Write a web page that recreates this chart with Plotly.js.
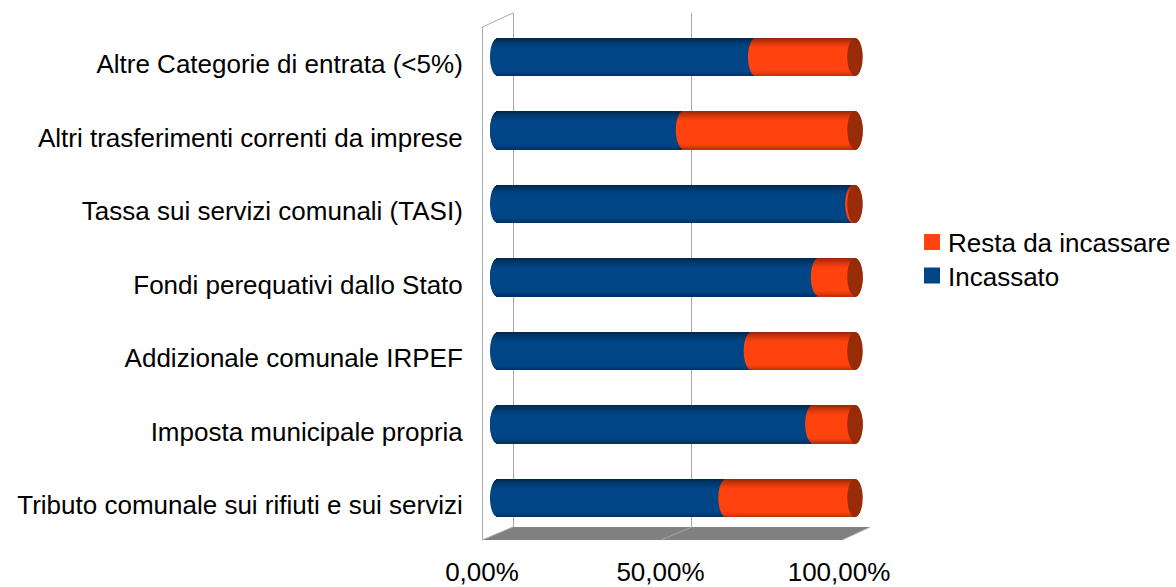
<!DOCTYPE html>
<html>
<head>
<meta charset="utf-8">
<script src="https://cdn.plot.ly/plotly-3.0.1.min.js"></script>
<style>html,body{margin:0;padding:0;background:#fff}</style>
</head>
<body>
<div id="chart" style="width:1176px;height:587px"></div>
<script>
var categories = [
  "Tributo comunale sui rifiuti e sui servizi",
  "Imposta municipale propria",
  "Addizionale comunale IRPEF",
  "Fondi perequativi dallo Stato",
  "Tassa sui servizi comunali (TASI)",
  "Altri trasferimenti correnti da imprese",
  "Altre Categorie di entrata (<5%)"
];
var incassato = [63.9, 88.2, 71, 89.8, 99.4, 52, 72.2];
var restaDaIncassare = [36.1, 11.8, 29, 10.2, 0.6, 48, 27.8];
var tickValues = [0, 50, 100];
var tickLabels = ["0,00%", "50,00%", "100,00%"];

// Frame of the plot, in window pixels
var L = 482, R = 870, T = 13, B = 540, W = 1176, H = 587;
var backFloorY = 527;
function px(x){ return (x - L) / (R - L); }
function py(y){ return (B - y) / (B - T); }

// Cylinder geometry
var slotPx = 73.5, pxPerUnit = 3.573, zeroPx = 497.7;
var barPx = 38, capPx = 7.7, strips = 38;
var capUnits = capPx / pxPerUnit;
var labelDropPx = 7;

function shade(rgb, m){
  return "rgb(" + rgb.map(function(c){ return Math.round(c * m); }).join(",") + ")";
}
function profile(t){
  // t = 1 at the top of the cylinder, -1 at the bottom
  if (t > 0.45) return 1 - 0.42 * Math.pow((t - 0.45) / 0.55, 1.4);
  if (t < -0.7) return 1 - 0.28 * Math.pow((-t - 0.7) / 0.3, 1.6);
  return 1;
}
var blue = [0, 69, 134], orange = [255, 66, 14], capColor = [153, 44, 8];

var traces = [];
// invisible helper traces that keep the wall grid and the label axes alive
traces.push({type:"scatter", mode:"markers", x:tickValues, y:[0,0,0], xaxis:"x", yaxis:"y",
  marker:{opacity:0}, showlegend:false, hoverinfo:"skip"});
traces.push({type:"scatter", mode:"markers", x:categories.map(function(){ return 0; }), y:categories, xaxis:"x3", yaxis:"y3",
  marker:{opacity:0}, showlegend:false, hoverinfo:"skip"});

for (var i = 0; i < strips; i++) {
  var topPx = barPx / 2 - i * barPx / strips;
  var hPx = barPx / strips;
  var t = (topPx - hPx / 2) / (barPx / 2);
  var bulge = capUnits * Math.sqrt(Math.max(0, 1 - t * t));
  var m = profile(t);
  var width = hPx / slotPx, offset = (topPx - hPx) / slotPx;
  var common = {type:"bar", orientation:"h", y:categories, xaxis:"x2", yaxis:"y2",
    width:width, offset:offset, showlegend:false, hoverinfo:"skip"};
  traces.push(Object.assign({}, common, {
    x: incassato.map(function(v){ return v + bulge; }),
    base: incassato.map(function(){ return -bulge; }),
    marker:{color:shade(blue, m), line:{width:0}}
  }));
  traces.push(Object.assign({}, common, {
    x: restaDaIncassare.map(function(v){ return v + bulge; }),
    base: incassato.map(function(v){ return v - bulge; }),
    marker:{color:shade(orange, m), line:{width:0}}
  }));
  traces.push(Object.assign({}, common, {
    x: incassato.map(function(){ return bulge * 2; }),
    base: incassato.map(function(v, k){ return v + restaDaIncassare[k] - bulge; }),
    marker:{color:shade(capColor, 0.9 + 0.1 * m), line:{width:0}}
  }));
}
// Legend entries
traces.push({type:"scatter", mode:"markers", name:"Resta da incassare", x:[-1000], y:[categories[0]], xaxis:"x2", yaxis:"y2",
  marker:{symbol:"square", size:16, color:"#ff420e"}, hoverinfo:"skip"});
traces.push({type:"scatter", mode:"markers", name:"Incassato", x:[-1000], y:[categories[0]], xaxis:"x2", yaxis:"y2",
  marker:{symbol:"square", size:16, color:"#004586"}, hoverinfo:"skip"});

var wall = "#a8a8a8";
var fontSize = 26;
var layout = {
  width: W, height: H,
  margin: {l: L, r: W - R, t: T, b: H - B, pad: 0, autoexpand: false},
  paper_bgcolor: "#ffffff", plot_bgcolor: "rgba(0,0,0,0)",
  font: {family: "Liberation Sans", size: fontSize, color: "#000000"},
  barmode: "overlay",
  showlegend: true,
  legend: {x: px(908), xanchor: "left", y: py(218.5), yanchor: "top", bgcolor: "rgba(0,0,0,0)",
    font: {family: "Liberation Sans", size: fontSize, color: "#000"}, itemwidth: 30, traceorder: "normal", tracegroupgap: 0},
  // back wall
  xaxis: {domain: [0, 1], range: [(L - 513) / 3.57, 100], tickvals: tickValues, showgrid: true, gridcolor: wall, gridwidth: 1,
    zeroline: false, showticklabels: false, ticks: "", showline: false, anchor: "y"},
  yaxis: {domain: [py(backFloorY), 1], range: [0, 1], showgrid: false, zeroline: false, showticklabels: false, ticks: "", showline: false, anchor: "x"},
  // cylinders
  xaxis2: {domain: [0, 1], range: [(L - zeroPx) / pxPerUnit, (R - zeroPx) / pxPerUnit], visible: false, anchor: "y2"},
  yaxis2: {domain: [0, 1], range: [(498 - B) / slotPx, (498 - T) / slotPx], type: "category",
    categoryorder: "array", categoryarray: categories, visible: false, anchor: "x2"},
  // value labels on the front edge of the floor
  xaxis3: {domain: [0, 1], range: [0, (R - L) / 3.57], tickvals: tickValues, ticktext: tickLabels,
    anchor: "y3", side: "bottom", showgrid: false, zeroline: false, showline: false, ticks: "outside", ticklen: 9, tickcolor: "rgba(0,0,0,0)",
    tickfont: {family: "Liberation Sans", size: fontSize, color: "#000"}, automargin: false},
  // category labels sit a little below the cylinders
  yaxis3: {domain: [0, 1], range: [(498 + labelDropPx - B) / slotPx, (498 + labelDropPx - T) / slotPx], type: "category",
    categoryorder: "array", categoryarray: categories, anchor: "x3", side: "left",
    showgrid: false, zeroline: false, showline: false, ticks: "outside", ticklen: 13, tickcolor: "rgba(0,0,0,0)",
    tickfont: {family: "Liberation Sans", size: fontSize, color: "#000"}, automargin: false},
  shapes: [
    {type:"path", xref:"paper", yref:"paper", layer:"below", line:{width:0}, fillcolor:"#808080",
      path:"M"+px(513)+","+py(527)+"L"+px(870)+","+py(527)+"L"+px(842)+","+py(540)+"L"+px(482)+","+py(540)+"Z"},
    {type:"line", xref:"paper", yref:"paper", layer:"below", x0:px(692), y0:py(527), x1:px(661), y1:py(540), line:{color:wall, width:1}},
    {type:"line", xref:"paper", yref:"paper", layer:"below", x0:px(482.5), y0:py(27), x1:px(482.5), y1:py(540), line:{color:wall, width:1}},
    {type:"line", xref:"paper", yref:"paper", layer:"below", x0:px(482.5), y0:py(27), x1:px(513), y1:py(13), line:{color:wall, width:1}},
    {type:"line", xref:"paper", yref:"paper", layer:"below", x0:px(482.5), y0:py(540), x1:px(513), y1:py(527), line:{color:wall, width:1}},
    {type:"line", xref:"paper", yref:"paper", layer:"below", x0:px(842), y0:py(540), x1:px(870), y1:py(527), line:{color:wall, width:1}}
  ]
};
Plotly.newPlot("chart", traces, layout, {displayModeBar:false, responsive:false}).then(function(gd){
  // bring the swatches closer to their text
  gd.querySelectorAll(".legend .legendpoints").forEach(function(el){
    el.setAttribute("transform", "translate(4,0) " + (el.getAttribute("transform") || ""));
  });
  // tighten the distance between the two legend rows
  var rows = gd.querySelectorAll(".legend .traces");
  if (rows.length === 2) {
    var first = /translate\(\s*([-\d.]+)[ ,]+([-\d.]+)/.exec(rows[0].getAttribute("transform"));
    if (first) rows[1].setAttribute("transform", "translate(" + first[1] + "," + (parseFloat(first[2]) + 33.5) + ")");
  }
});
</script>
</body>
</html>
